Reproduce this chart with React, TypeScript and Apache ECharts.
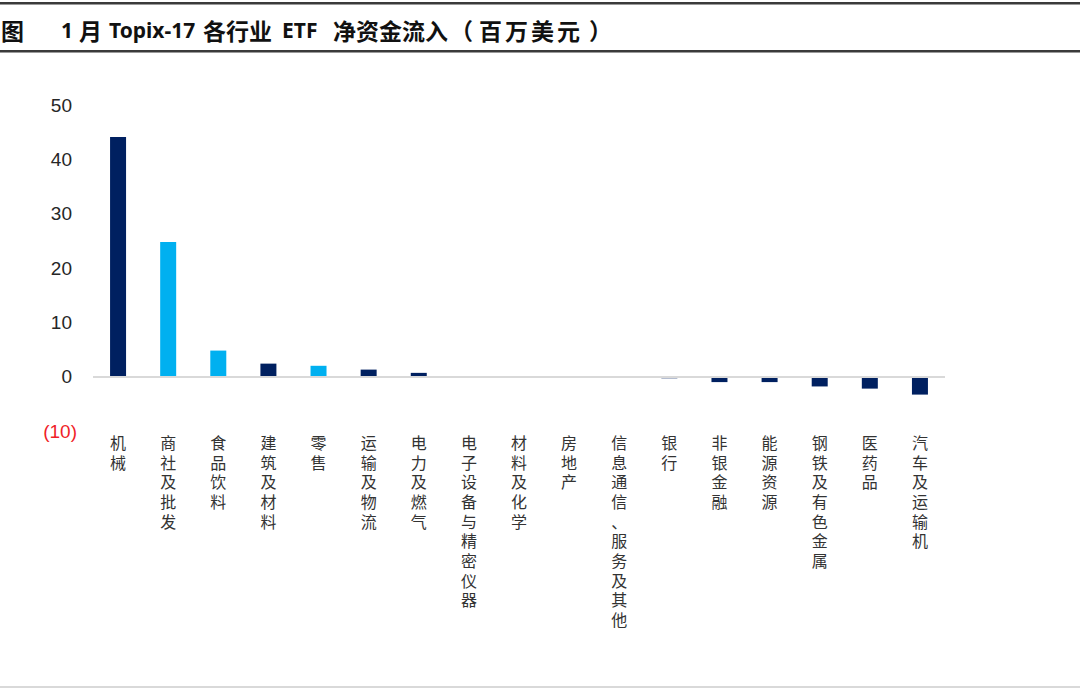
import React, { useEffect, useRef } from "react";
import * as echarts from "echarts";

const categories = [
  "机械", "商社及批发", "食品饮料", "建筑及材料", "零售", "运输及物流", "电力及燃气",
  "电子设备与精密仪器", "材料及化学", "房地产", "信息通信、服务及其他", "银行",
  "非银金融", "能源资源", "钢铁及有色金属", "医药品", "汽车及运输机",
];
const values = [44.1, 24.8, 4.8, 2.4, 2.0, 1.3, 0.7, 0, 0, 0, 0, -0.3, -1.0, -1.0, -1.8, -2.2, -3.3];
const highlighted = ["商社及批发", "食品饮料", "零售"];
const yTicks = { min: -10, max: 50, interval: 10 };
const titleParts = ["图", "1", "月", "Topix-17", "各行业", "ETF", "净资金流入", "（", "百", "万", "美", "元", "）"];
const titleX = [1, 61, 79, 109, 203, 282, 333, 450, 479, 505, 531, 557, 589];
const titleLatin = [false, true, false, true, false, true, false, false, false, false, false, false, false];

const NAVY = "#002060";
const LIGHT = "#00B0F0";

export default function App() {
  const ref = useRef<HTMLDivElement>(null);
  useEffect(() => {
    if (!ref.current) return;
    const chart = echarts.init(ref.current, null, { renderer: "svg" });
    const titleGraphics = titleParts.map((t, i) => ({
      type: "text",
      x: titleX[i],
      y: 30,
      style: {
        text: t,
        font: titleLatin[i] ? "bold 21px 'Noto Sans'" : "bold 23px 'Noto Sans CJK SC'",
        fill: "#111",
        textVerticalAlign: "middle",
      },
    }));
    chart.setOption({
      animation: false,
      backgroundColor: "#ffffff",
      grid: { left: 93, right: 135, top: 105, bottom: 257, containLabel: false },
      graphic: [
        { type: "rect", shape: { x: 0, y: 2, width: 1080, height: 2 }, style: { fill: "#3a3a3a" } },
        { type: "rect", shape: { x: 0, y: 4, width: 1080, height: 1 }, style: { fill: "#9a9a9a" } },
        { type: "rect", shape: { x: 0, y: 50, width: 1080, height: 2 }, style: { fill: "#3a3a3a" } },
        { type: "rect", shape: { x: 0, y: 52, width: 1080, height: 1 }, style: { fill: "#9a9a9a" } },
        { type: "rect", shape: { x: 0, y: 686, width: 1080, height: 2 }, style: { fill: "#d9d9d9" } },
        ...titleGraphics,
      ],
      xAxis: {
        type: "category",
        data: categories,
        axisLine: { show: false, onZero: false },
        axisTick: { show: false },
        axisLabel: {
          interval: 0,
          margin: 1,
          verticalAlign: "top",
          fontSize: 16,
          lineHeight: 19.7,
          color: "#333",
          fontFamily: "'Noto Sans CJK SC'",
          formatter: (v: string) => v.split("").join("\n"),
        },
      },
      yAxis: {
        type: "value",
        min: yTicks.min,
        max: yTicks.max,
        interval: yTicks.interval,
        splitLine: { show: false },
        axisLine: { show: false },
        axisTick: { show: false },
        axisLabel: {
          margin: 21,
          fontSize: 19,
          color: "#262626",
          fontFamily: "'Liberation Sans', Arial",
          formatter: (v: number) => (v < 0 ? `{neg|(${Math.abs(v)})}` : `${v}`),
          rich: { neg: { color: "#f01e28", fontSize: 19, fontFamily: "'Liberation Sans', Arial", padding: [0, -5, 0, 0] } },
        },
      },
      series: [
        {
          type: "bar",
          barWidth: 16,
          data: values.map((v, i) => ({
            value: v,
            itemStyle: { color: highlighted.includes(categories[i]) ? LIGHT : NAVY },
          })),
          markLine: {
            silent: true,
            symbol: "none",
            label: { show: false },
            lineStyle: { color: "#d9d9d9", width: 2, type: "solid" },
            data: [{ yAxis: 0 }],
          },
          z: 3,
        },
      ],
    });
    return () => chart.dispose();
  }, []);
  return <div ref={ref} style={{ position: "fixed", left: 0, top: 0, width: 1080, height: 688 }} />;
}
